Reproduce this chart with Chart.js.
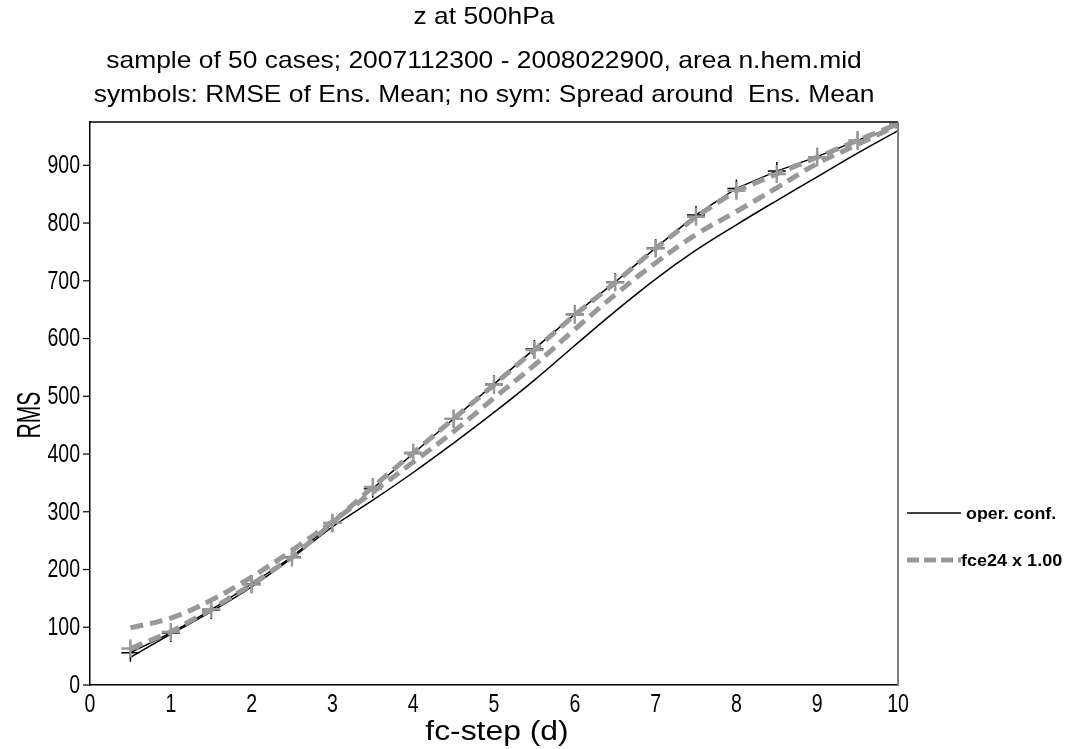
<!DOCTYPE html>
<html>
<head>
<meta charset="utf-8">
<script src="https://cdn.jsdelivr.net/npm/chart.js@4/dist/chart.umd.min.js"></script>
<style>
	html, body { margin: 0; padding: 0; background: #ffffff; }
	#wrap { width: 1068px; height: 749px; position: relative; }
</style>
</head>
<body>
<div id="wrap"><canvas id="myChart" width="1068" height="749"></canvas></div>
<script>
// forecast steps (days)
var steps = [0.5, 1, 1.5, 2, 2.5, 3, 3.5, 4, 4.5, 5, 5.5, 6, 6.5, 7, 7.5, 8, 8.5, 9, 9.5, 10];

// RMSE of ensemble mean (symbols)
var operRmse = [56, 90, 130, 175, 222, 280, 340, 401, 461, 521, 582, 642, 698, 757, 814, 860, 890, 915, 943, 969];
var fceRmse = [63, 92, 131, 174, 221, 281, 343, 402, 461, 520, 580, 641, 697, 756, 811, 856, 885, 914, 943, 972];

// spread around ensemble mean (no symbols)
var operSpread = [48, 88, 127, 170, 220, 274, 320, 368, 419, 472, 528, 588, 647, 703, 753, 797, 839, 880, 921, 960];
var fceSpread = [99, 116, 147, 187, 233, 283, 334, 386, 439, 497, 554, 616, 676, 731, 780, 820, 861, 903, 936, 970];

var xTicks = [0, 1, 2, 3, 4, 5, 6, 7, 8, 9, 10];
var yTicks = [0, 100, 200, 300, 400, 500, 600, 700, 800, 900];

var titleLines = [
	"z at 500hPa",
	"sample of 50 cases; 2007112300 - 2008022900, area n.hem.mid",
	"symbols: RMSE of Ens. Mean; no sym: Spread around  Ens. Mean"
];
var xTitle = "fc-step (d)";
var yTitle = "RMS";
var legendLabels = ["oper. conf.", "fce24 x 1.00"];

var FONT = "'Liberation Sans', Arial, sans-serif";
var GREY = "#999999";

function toPoints(values) {
	var points = [];
	for (var i = 0; i < steps.length; i++) {
		points.push({ x: steps[i], y: values[i] });
	}
	return points;
}

// text with a horizontal stretch, like the original plot
function drawText(ctx, text, x, y, size, weight, sx, align, rot) {
	ctx.save();
	ctx.translate(x, y);
	if (rot) {
		ctx.rotate(rot);
	}
	ctx.scale(sx, 1);
	ctx.font = weight + " " + size + "px " + FONT;
	ctx.textAlign = align;
	ctx.textBaseline = "middle";
	ctx.fillStyle = "#000000";
	ctx.fillText(text, 0, 0);
	ctx.restore();
}

var decorPlugin = {
	id: 'decor',
	afterDraw: function (chart) {
		var ctx = chart.ctx;
		var area = chart.chartArea;
		var xs = chart.scales.x;
		var ys = chart.scales.y;
		ctx.save();
		// title
		var titleY = [17, 61, 95];
		for (var i = 0; i < titleLines.length; i++) {
			drawText(ctx, titleLines[i], 484, titleY[i], 24, "normal", 1.1, "center", 0);
		}
		// top and right frame
		ctx.lineWidth = 1.5;
		ctx.strokeStyle = "#000000";
		ctx.beginPath();
		ctx.moveTo(area.left, area.top);
		ctx.lineTo(area.right, area.top);
		ctx.stroke();
		ctx.strokeStyle = "#808080";
		ctx.lineWidth = 2;
		ctx.beginPath();
		ctx.moveTo(area.right, area.top);
		ctx.lineTo(area.right, area.bottom);
		ctx.stroke();
		// y ticks and labels
		ctx.strokeStyle = "#000000";
		ctx.lineWidth = 1.2;
		for (var j = 0; j < yTicks.length; j++) {
			var py = ys.getPixelForValue(yTicks[j]);
			ctx.beginPath();
			ctx.moveTo(area.left - 7, py);
			ctx.lineTo(area.left, py);
			ctx.stroke();
			drawText(ctx, String(yTicks[j]), 80, py + 1, 25, "normal", 0.78, "right", 0);
		}
		// x labels
		for (var k = 0; k < xTicks.length; k++) {
			var px = xs.getPixelForValue(xTicks[k]);
			drawText(ctx, String(xTicks[k]), px, 705, 25, "normal", 0.78, "center", 0);
		}
		// axis titles
		drawText(ctx, xTitle, 497, 733, 27, "normal", 1.18, "center", 0);
		drawText(ctx, yTitle, 31, 415, 34, "normal", 0.62, "center", -Math.PI / 2);
		// legend
		ctx.strokeStyle = "#000000";
		ctx.lineWidth = 1.5;
		ctx.beginPath();
		ctx.moveTo(907, 513);
		ctx.lineTo(961, 513);
		ctx.stroke();
		drawText(ctx, legendLabels[0], 966, 514, 17, "bold", 1.05, "left", 0);
		ctx.strokeStyle = GREY;
		ctx.lineWidth = 5;
		ctx.setLineDash([12, 5]);
		ctx.beginPath();
		ctx.moveTo(907, 560);
		ctx.lineTo(961, 560);
		ctx.stroke();
		ctx.setLineDash([]);
		drawText(ctx, legendLabels[1], 961, 561, 17, "bold", 1.06, "left", 0);
		ctx.restore();
	}
};

var chart = document.getElementById("myChart").getContext('2d');
var myChart = new Chart(chart, {
	type: 'line',
	data: {
		datasets: [
			{
				label: 'fce24 RMSE',
				data: toPoints(fceRmse),
				borderColor: GREY,
				borderWidth: 5,
				borderDash: [13, 7],
				pointStyle: 'cross',
				pointRadius: 9,
				pointBorderWidth: 2.5,
				pointBorderColor: GREY,
				tension: 0,
				order: 0
			},
			{
				label: 'fce24 spread',
				data: toPoints(fceSpread),
				borderColor: GREY,
				borderWidth: 5,
				borderDash: [13, 7],
				pointRadius: 0,
				tension: 0.4,
				order: 0
			},
			{
				label: 'oper RMSE',
				data: toPoints(operRmse),
				borderColor: "#000000",
				borderWidth: 1.5,
				pointStyle: 'cross',
				pointRadius: 9,
				pointBorderWidth: 1.5,
				pointBorderColor: "#000000",
				tension: 0,
				order: 1
			},
			{
				label: 'oper spread',
				data: toPoints(operSpread),
				borderColor: "#000000",
				borderWidth: 1.5,
				pointRadius: 0,
				tension: 0.4,
				order: 1
			}
		]
	},
	options: {
		responsive: false,
		animation: false,
		layout: { padding: { top: 122, right: 170, left: 0, bottom: 0 } },
		plugins: {
			legend: { display: false },
			tooltip: { enabled: false },
			title: { display: false }
		},
		scales: {
			x: {
				type: 'linear',
				min: 0,
				max: 10,
				ticks: { display: false, stepSize: 1 },
				grid: { display: false, drawTicks: false },
				border: { color: "#000000", width: 1.5 },
				afterFit: function (scale) { scale.height = 64; }
			},
			y: {
				type: 'linear',
				min: 0,
				max: 975,
				ticks: { display: false, stepSize: 100 },
				grid: { display: false, drawTicks: false },
				border: { color: "#000000", width: 1.5 },
				afterFit: function (scale) { scale.width = 90; }
			}
		}
	},
	plugins: [decorPlugin]
});
</script>
</body>
</html>
